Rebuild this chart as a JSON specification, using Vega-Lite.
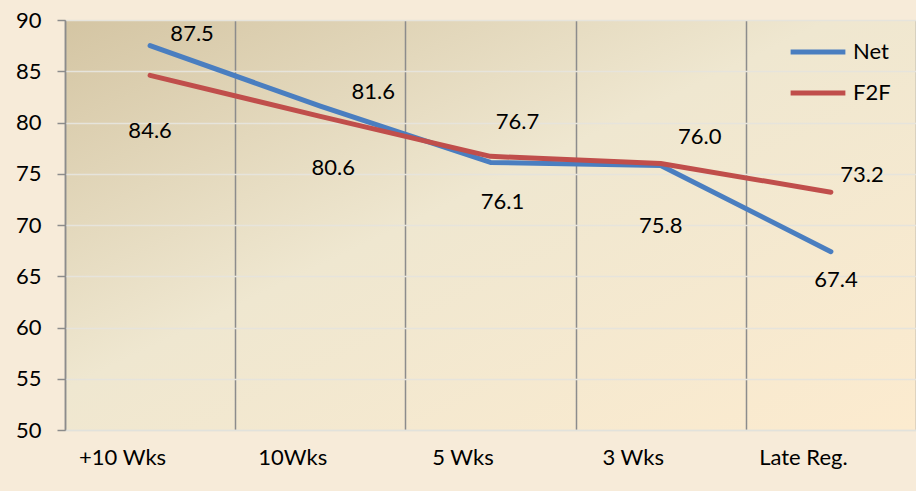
{
  "$schema": "https://vega.github.io/schema/vega-lite/v6.json",
  "width": 851,
  "height": 410,
  "autosize": {"type": "none"},
  "padding": {"left": 65, "top": 20, "right": 0, "bottom": 61},
  "background": "#F7EBD9",
  "config": {
    "font": "Lato",
    "view": {
      "stroke": null,
      "fill": {
        "gradient": "linear",
        "x1": 0, "y1": 0, "x2": 1, "y2": 1,
        "stops": [
          {"offset": 0, "color": "#D4C5A3"},
          {"offset": 0.45, "color": "#EFE7D0"},
          {"offset": 1, "color": "#FCEBCF"}
        ]
      }
    }
  },
  "data": {
    "values": [
      {"cat": "+10 Wks", "series": "Net", "value": 87.5},
      {"cat": "10Wks", "series": "Net", "value": 81.6},
      {"cat": "5 Wks", "series": "Net", "value": 76.1},
      {"cat": "3 Wks", "series": "Net", "value": 75.8},
      {"cat": "Late Reg.", "series": "Net", "value": 67.4},
      {"cat": "+10 Wks", "series": "F2F", "value": 84.6},
      {"cat": "10Wks", "series": "F2F", "value": 80.6},
      {"cat": "5 Wks", "series": "F2F", "value": 76.7},
      {"cat": "3 Wks", "series": "F2F", "value": 76.0},
      {"cat": "Late Reg.", "series": "F2F", "value": 73.2}
    ]
  },
  "encoding": {
    "x": {
      "field": "cat", "type": "nominal",
      "sort": ["+10 Wks", "10Wks", "5 Wks", "3 Wks", "Late Reg."],
      "scale": {"paddingInner": 0, "paddingOuter": 0},
      "axis": {
        "title": null, "labelAngle": 0, "labelFontSize": 22, "labelColor": "#000000",
        "labelPadding": 17, "labelOffset": -28, "ticks": false, "tickBand": "extent",
        "domainColor": "#E2E2DC", "domainWidth": 1.5,
        "grid": true, "gridColor": "#8C8C8C", "gridWidth": 1.5
      }
    },
    "y": {
      "field": "value", "type": "quantitative",
      "scale": {"domain": [50, 90], "nice": false, "zero": false},
      "axis": {
        "title": null, "values": [50, 55, 60, 65, 70, 75, 80, 85, 90],
        "labelFontSize": 22, "labelColor": "#000000", "labelPadding": 16,
        "tickSize": 8, "tickColor": "#8C8C8C", "tickWidth": 1.5,
        "domainColor": "#8C8C8C", "domainWidth": 1.5,
        "grid": true, "gridColor": "#E6E4DC", "gridWidth": 1.5
      }
    }
  },
  "layer": [
    {
      "mark": {"type": "line", "strokeWidth": 5, "strokeCap": "round", "strokeJoin": "round"},
      "encoding": {
        "color": {
          "field": "series", "type": "nominal",
          "scale": {"domain": ["Net", "F2F"], "range": ["#4A7EC0", "#C04E4B"]},
          "legend": {
            "title": null, "orient": "none", "legendX": 723, "legendY": 2,
            "symbolType": "stroke", "symbolSize": 3000, "symbolStrokeWidth": 5,
            "labelFontSize": 22, "labelColor": "#000000", "rowPadding": -15, "labelOffset": 5,
            "padding": 0, "fillColor": null
          }
        }
      }
    },
    {"transform": [{"filter": "datum.series=='Net' && datum.cat=='+10 Wks'"}], "mark": {"type": "text", "fontSize": 22, "dx": 42, "dy": -12, "baseline": "middle"}, "encoding": {"text": {"field": "value", "format": ".1f"}}},
    {"transform": [{"filter": "datum.series=='F2F' && datum.cat=='+10 Wks'"}], "mark": {"type": "text", "fontSize": 22, "dx": 0, "dy": 56, "baseline": "middle"}, "encoding": {"text": {"field": "value", "format": ".1f"}}},
    {"transform": [{"filter": "datum.series=='Net' && datum.cat=='10Wks'"}], "mark": {"type": "text", "fontSize": 22, "dx": 53, "dy": -14, "baseline": "middle"}, "encoding": {"text": {"field": "value", "format": ".1f"}}},
    {"transform": [{"filter": "datum.series=='F2F' && datum.cat=='10Wks'"}], "mark": {"type": "text", "fontSize": 22, "dx": 13, "dy": 52, "baseline": "middle"}, "encoding": {"text": {"field": "value", "format": ".1f"}}},
    {"transform": [{"filter": "datum.series=='Net' && datum.cat=='5 Wks'"}], "mark": {"type": "text", "fontSize": 22, "dx": 12, "dy": 40, "baseline": "middle"}, "encoding": {"text": {"field": "value", "format": ".1f"}}},
    {"transform": [{"filter": "datum.series=='F2F' && datum.cat=='5 Wks'"}], "mark": {"type": "text", "fontSize": 22, "dx": 27, "dy": -34, "baseline": "middle"}, "encoding": {"text": {"field": "value", "format": ".1f"}}},
    {"transform": [{"filter": "datum.series=='Net' && datum.cat=='3 Wks'"}], "mark": {"type": "text", "fontSize": 22, "dx": 0, "dy": 60, "baseline": "middle"}, "encoding": {"text": {"field": "value", "format": ".1f"}}},
    {"transform": [{"filter": "datum.series=='F2F' && datum.cat=='3 Wks'"}], "mark": {"type": "text", "fontSize": 22, "dx": 39, "dy": -27, "baseline": "middle"}, "encoding": {"text": {"field": "value", "format": ".1f"}}},
    {"transform": [{"filter": "datum.series=='Net' && datum.cat=='Late Reg.'"}], "mark": {"type": "text", "fontSize": 22, "dx": 5, "dy": 28, "baseline": "middle"}, "encoding": {"text": {"field": "value", "format": ".1f"}}},
    {"transform": [{"filter": "datum.series=='F2F' && datum.cat=='Late Reg.'"}], "mark": {"type": "text", "fontSize": 22, "dx": 31, "dy": -17, "baseline": "middle"}, "encoding": {"text": {"field": "value", "format": ".1f"}}}
  ]
}
